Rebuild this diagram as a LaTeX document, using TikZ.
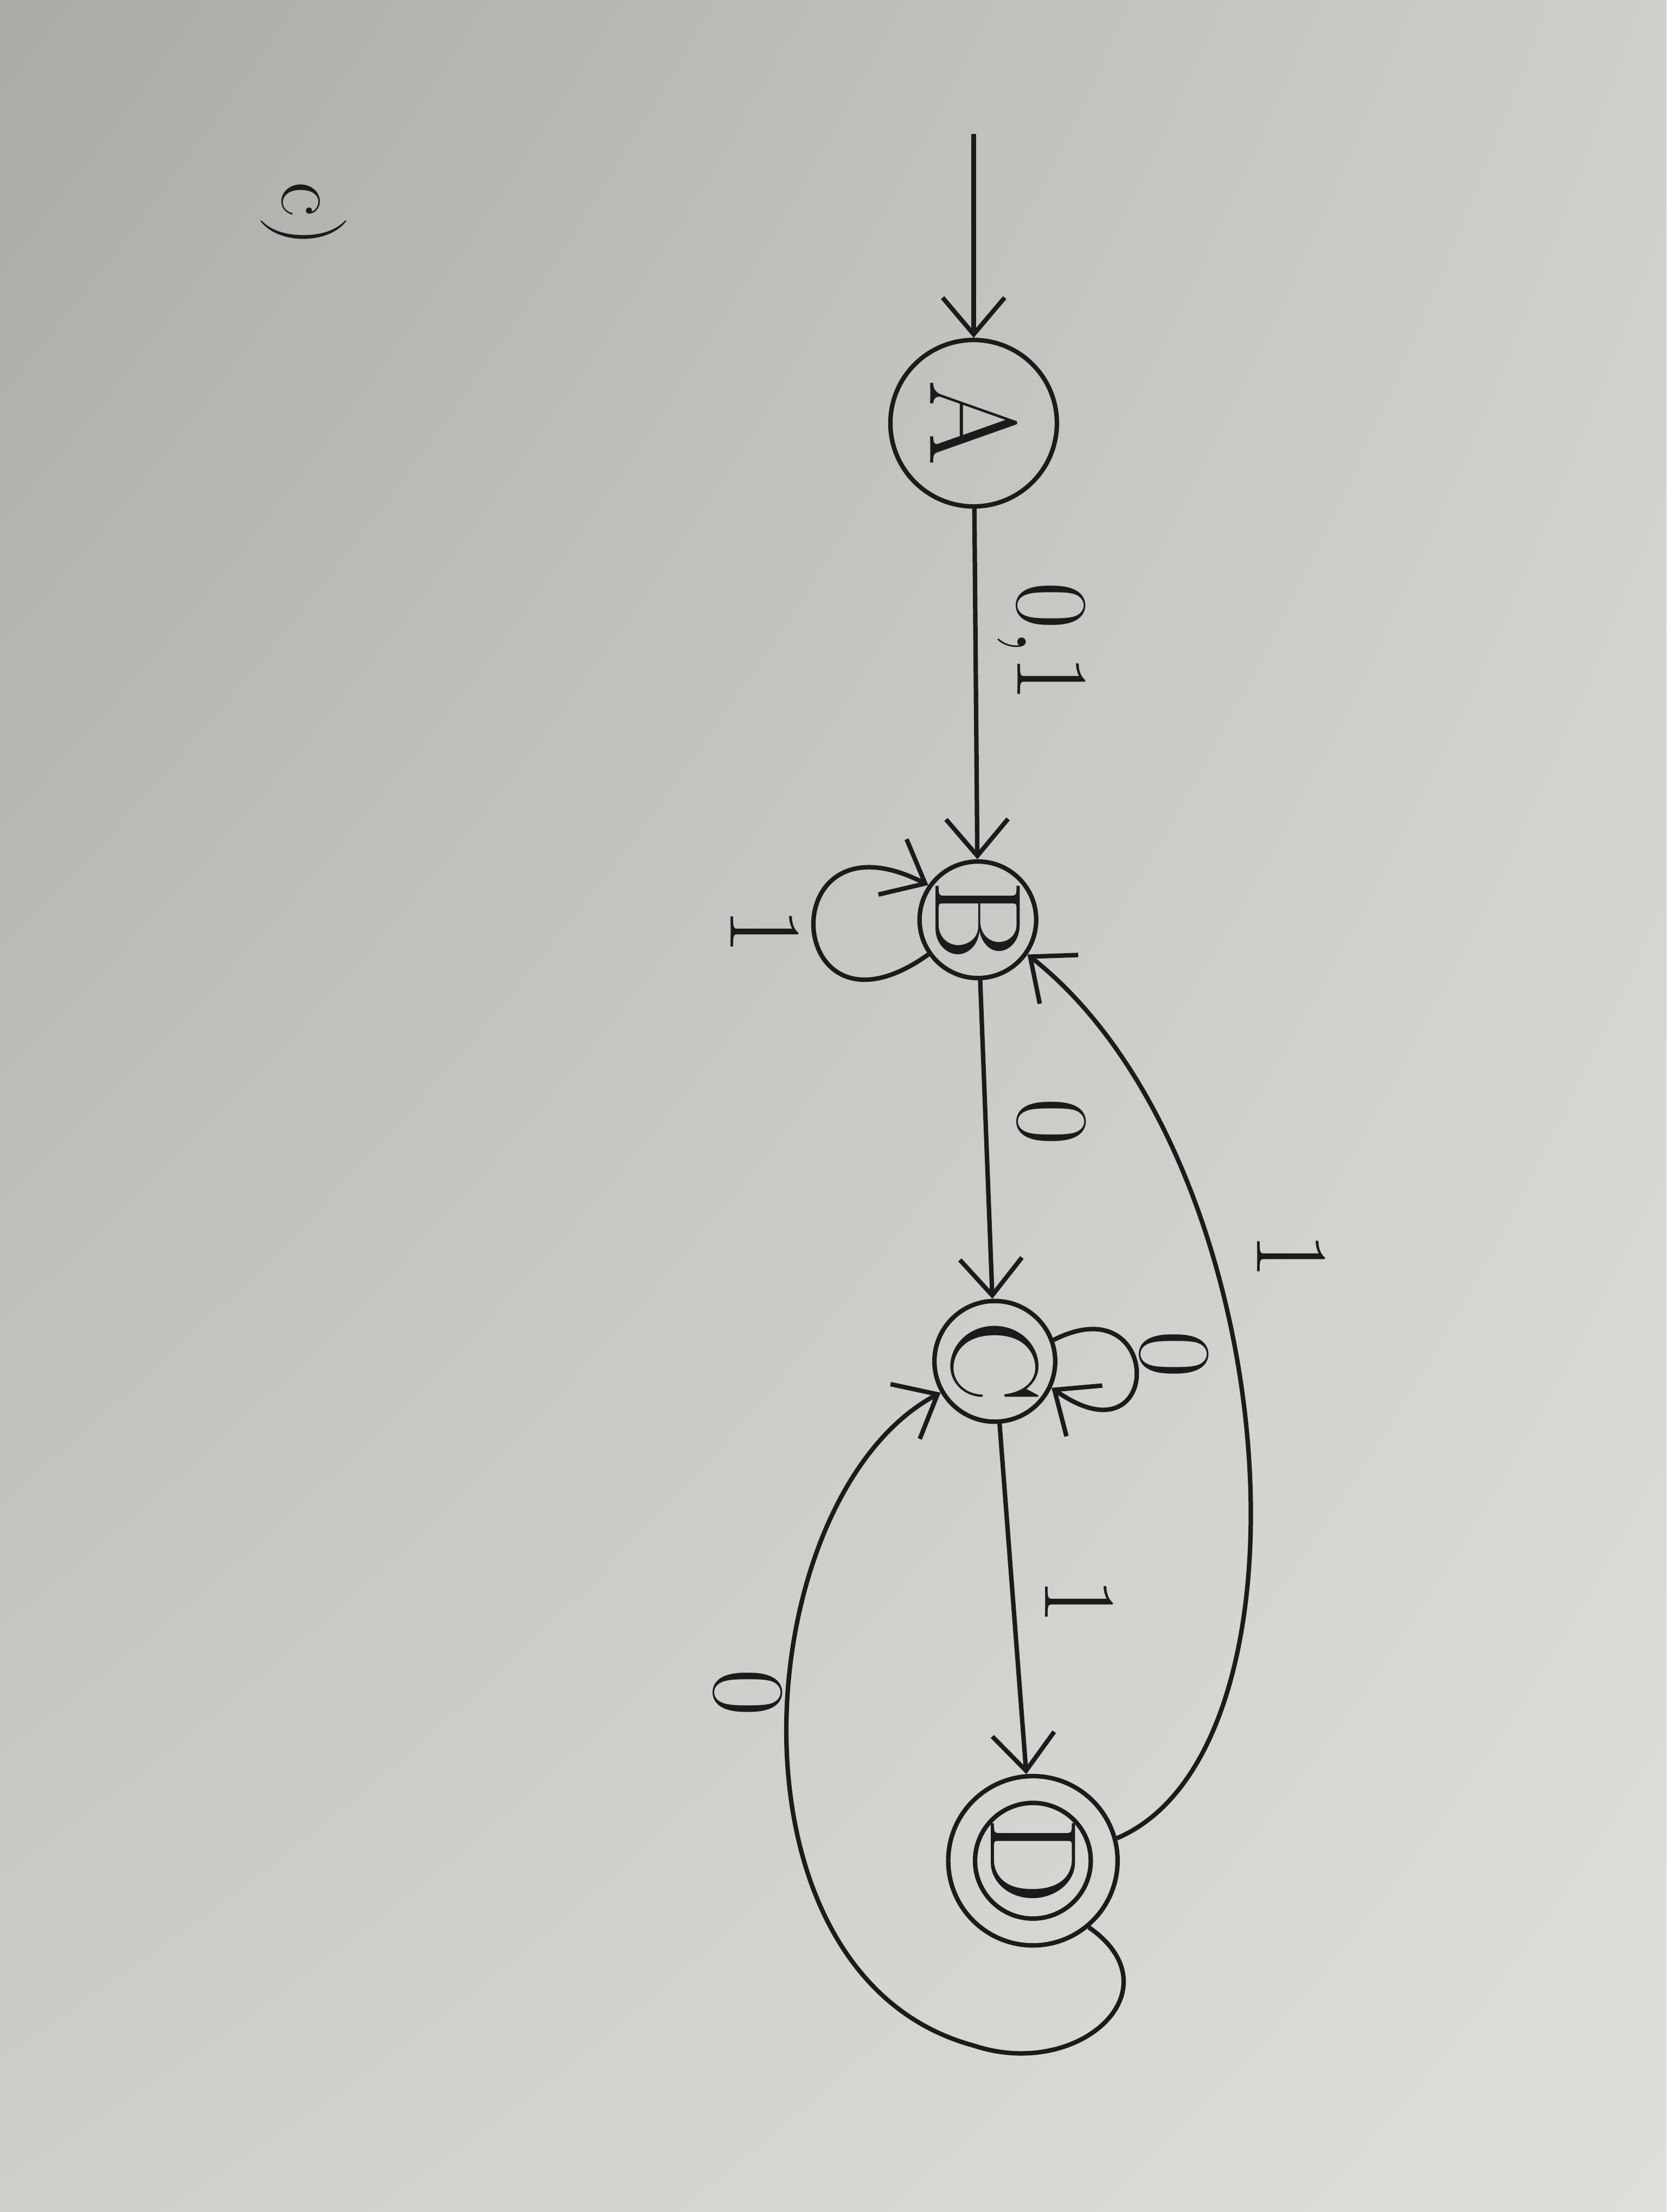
\documentclass[tikz,border=0pt]{standalone}
\usepackage{graphicx}
\usetikzlibrary{arrows.meta,shadings}
\definecolor{paperdark}{RGB}{170,170,167}
\definecolor{paperlight}{RGB}{222,222,219}
\definecolor{papermid}{RGB}{206,206,203}
\definecolor{ink}{RGB}{28,26,26}
\newcommand{\turned}[1]{\rotatebox{-90}{#1}}
\begin{document}
\begin{tikzpicture}[line width=0.9pt,
  state/.style={circle, draw=ink, inner sep=0pt, font=\Huge, text=ink},
  lbl/.style={font=\huge, text=ink, rotate=-90},
  trans/.style={draw=ink, ->},
  >={Straight Barb[length=2.6mm,width=4.4mm]}]
\useasboundingbox (0,0) rectangle (11.81,-15.68);
\shade[upper left=paperdark, upper right=papermid,
       lower left=papermid, lower right=paperlight] (0,0) rectangle (11.81,-15.68);

% part label
\node[lbl, font=\LARGE] (part) at (2.15,-1.52) {c)};

% states
\node[state, minimum size=1.18cm] (A) at (6.90,-3.00) {\turned{A}};
\node[state, minimum size=0.82cm] (B) at (6.93,-6.52) {\turned{B}};
\node[state, minimum size=0.78cm] (C) at (7.05,-9.65) {\turned{C}};
\node[state, minimum size=1.20cm] (D) at (7.32,-13.19) {\turned{D}};
\draw[ink] (D.center) circle (0.41);

% transitions
\coordinate (start) at (6.90,-0.95);
\draw[trans] (start) -- (A);
\draw[trans] (A) -- (B);
\draw[trans] (B) -- (C);
\draw[trans] (C) -- (D);
\draw[trans] (B.215) .. controls (5.55,-7.5) and (5.45,-5.7) .. (B.145);
\draw[trans] (C.20) .. controls (8.25,-9.1) and (8.25,-10.4) .. (C.-25);
\draw[trans] (D.15) .. controls (9.4,-12.4) and (9.1,-8.2) .. (B.-35);
\draw[trans] (D.-50) .. controls (8.35,-14.1) and (7.65,-14.75) .. (6.9,-14.5)
                    .. controls (5.05,-14.0) and (5.3,-10.6) .. (C.-150);

% labels
\node[lbl] (lAB) at (7.38,-4.55) {0,1};
\node[lbl] (lBB) at (5.42,-6.60) {1};
\node[lbl] (lBC) at (7.45,-7.95) {0};
\node[lbl] (lCC) at (8.32,-9.60) {0};
\node[lbl] (lCD) at (7.65,-11.35) {1};
\node[lbl] (lDB) at (9.15,-8.90) {1};
\node[lbl] (lDC) at (5.30,-12.00) {0};
\end{tikzpicture}
\end{document}
